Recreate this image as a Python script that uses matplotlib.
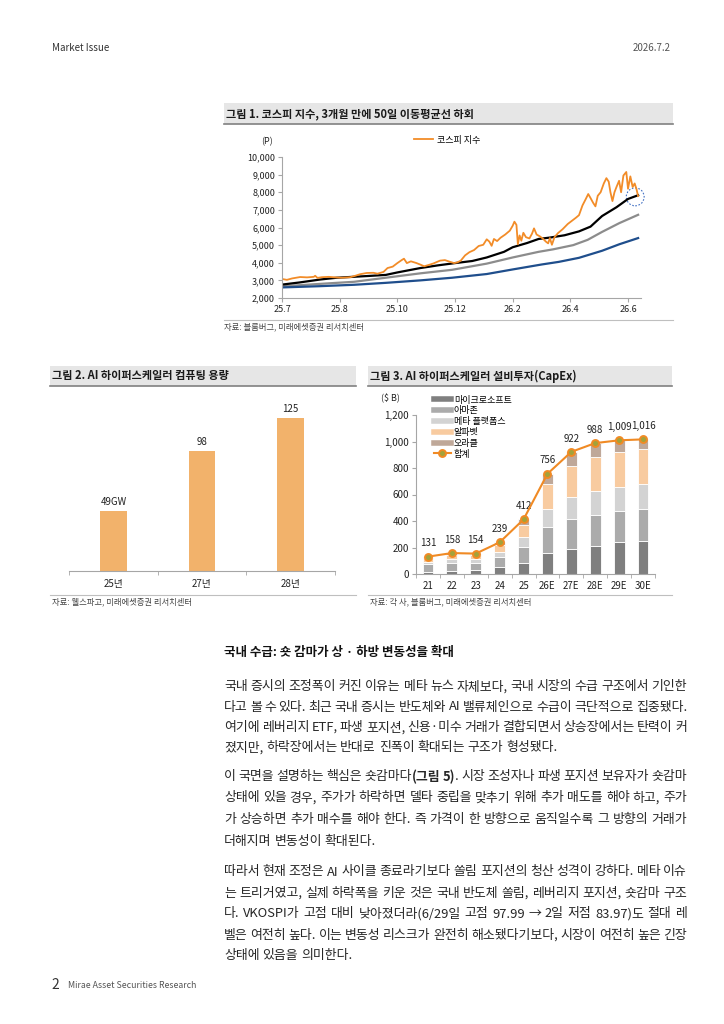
import numpy as np
import matplotlib.pyplot as plt
from matplotlib.patches import Rectangle, Ellipse
from matplotlib.lines import Line2D
from matplotlib.ticker import FuncFormatter

plt.rcParams['font.family'] = ['Noto Sans CJK KR', 'DejaVu Sans']
plt.rcParams['axes.unicode_minus'] = False

W, H = 724, 1024

# ---- 그림 1 : 코스피 + 이동평균 (x = 시작 후 경과 개월) ----
kospi_x = [0.00, 0.17, 0.35, 0.63, 0.87, 1.10, 1.15, 1.23, 1.38, 1.62, 1.85, 2.08, 2.37, 2.54,
           2.71, 2.94, 3.17, 3.31, 3.52, 3.66, 3.84, 4.00, 4.15, 4.23, 4.33, 4.47, 4.65, 4.79,
           4.93, 5.08, 5.25, 5.48, 5.65, 5.83, 5.97, 6.08, 6.20, 6.35, 6.50, 6.66, 6.82, 6.98,
           7.10, 7.19, 7.27, 7.35, 7.46, 7.58, 7.74, 7.90, 8.00, 8.06, 8.13, 8.18, 8.24, 8.30,
           8.37, 8.46, 8.58, 8.67, 8.74, 8.83, 8.94, 9.06, 9.15, 9.23, 9.29, 9.36, 9.45, 9.57,
           9.73, 9.91, 10.07, 10.19, 10.30, 10.42, 10.53, 10.62, 10.69, 10.79, 10.87, 10.95,
           11.05, 11.16, 11.25, 11.33, 11.39, 11.46, 11.53, 11.60, 11.69, 11.76, 11.84, 11.94,
           12.00, 12.08, 12.16, 12.23, 12.29, 12.35]
kospi_v = [3080, 3030, 3110, 3190, 3170, 3200, 3260, 3140, 3180, 3200, 3170, 3150, 3180, 3260,
           3350, 3420, 3430, 3380, 3480, 3700, 3780, 3980, 4150, 4230, 3980, 4080, 3990, 3900,
           3800, 3870, 3960, 4120, 4150, 4050, 3980, 4020, 4120, 4420, 4600, 4720, 4950, 5020,
           5330, 5200, 4960, 5350, 5230, 5420, 5600, 5820, 6100, 6330, 6150, 5050, 5550, 5250,
           5700, 5450, 5380, 5650, 5950, 5600, 5500, 5350, 5200, 5100, 5400, 5020, 5450, 5680,
           5900, 6200, 6400, 6550, 6700, 7250, 7600, 7900, 7700, 7400, 7200, 7800,
           8000, 8500, 8800, 8600, 8000, 7500, 8000, 8300, 8650, 8000, 8950, 9150,
           8200, 8900, 8300, 8500, 8200, 7780]
ma_black_x = [0, 0.6, 1.33, 1.9, 3.0, 3.6, 4.0, 4.8, 5.4, 6.0, 6.6, 7.1, 7.7, 8.0, 8.5, 8.9,
              9.3, 9.8, 10.3, 10.7, 11.1, 11.6, 12.0, 12.35]
ma_black_v = [2760, 2880, 3050, 3150, 3250, 3310, 3450, 3700, 3850, 3980, 4100, 4300, 4620,
              4880, 5120, 5350, 5430, 5560, 5780, 6050, 6650, 7150, 7620, 7830]
ma_gray_x = [0, 1.3, 2.5, 3.6, 4.8, 5.9, 7.1, 8.0, 8.9, 9.4, 10.1, 10.6, 11.1, 11.7, 12.35]
ma_gray_v = [2660, 2800, 2920, 3150, 3400, 3600, 3950, 4300, 4620, 4760, 5000, 5300, 5750,
             6250, 6720]
ma_navy_x = [0, 1.3, 2.5, 3.6, 4.8, 5.9, 7.1, 8.0, 9.0, 9.6, 10.3, 11.1, 11.7, 12.35]
ma_navy_v = [2600, 2670, 2750, 2860, 3000, 3150, 3360, 3620, 3900, 4050, 4280, 4680, 5050, 5400]
x1_ticks = [0, 2, 4, 6, 8, 10, 12]
x1_labels = ['25.7', '25.8', '25.10', '25.12', '26.2', '26.4', '26.6']

# ---- 그림 2 : 컴퓨팅 용량 ----
cap_years = ['25년', '27년', '28년']
cap_gw = [49, 98, 125]
cap_text = ['49GW', '98', '125']

# ---- 그림 3 : CapEx ----
capex_years = ['21', '22', '23', '24', '25', '26E', '27E', '28E', '29E', '30E']
msft = [18, 20, 30, 50, 81, 156, 186, 211, 239, 247]
amzn = [56, 65, 55, 81, 125, 196, 229, 234, 236, 241]
meta = [20, 26, 28, 37, 71, 136, 164, 181, 179, 189]
googl = [25, 32, 30, 51, 93, 189, 239, 259, 264, 264]
orcl = [12, 15, 11, 20, 42, 79, 104, 103, 91, 75]
capex_total = [131, 158, 154, 239, 412, 756, 922, 988, 1009, 1016]
capex_names = ['마이크로소프트', '아마존', '메타 플랫폼스', '알파벳', '오라클']
capex_colors = ['#7F7F7F', '#ABABAB', '#D3D3D3', '#F8CBA0', '#BFA899']

para1 = ["국내 증시의 조정폭이 커진 이유는 메타 뉴스 자체보다, 국내 시장의 수급 구조에서 기인한",
         "다고 볼 수 있다. 최근 국내 증시는 반도체와 AI 밸류체인으로 수급이 극단적으로 집중됐다.",
         "여기에 레버리지 ETF, 파생 포지션, 신용·미수 거래가 결합되면서 상승장에서는 탄력이 커",
         "졌지만, 하락장에서는 반대로 진폭이 확대되는 구조가 형성됐다."]
para2 = ["이 국면을 설명하는 핵심은 숏감마다§(그림 5)§. 시장 조성자나 파생 포지션 보유자가 숏감마",
         "상태에 있을 경우, 주가가 하락하면 델타 중립을 맞추기 위해 추가 매도를 해야 하고, 주가",
         "가 상승하면 추가 매수를 해야 한다. 즉 가격이 한 방향으로 움직일수록 그 방향의 거래가",
         "더해지며 변동성이 확대된다."]
para3 = ["따라서 현재 조정은 AI 사이클 종료라기보다 쏠림 포지션의 청산 성격이 강하다. 메타 이슈",
         "는 트리거였고, 실제 하락폭을 키운 것은 국내 반도체 쏠림, 레버리지 포지션, 숏감마 구조",
         "다. VKOSPI가 고점 대비 낮아졌더라(6/29일 고점 97.99 → 2일 저점 83.97)도 절대 레",
         "벨은 여전히 높다. 이는 변동성 리스크가 완전히 해소됐다기보다, 시장이 여전히 높은 긴장",
         "상태에 있음을 의미한다."]
para1_y = [686.5, 707, 727.5, 748]
para2_y = [776.5, 798, 820, 842]
para3_y = [872, 893, 914, 935, 956]

fig = plt.figure(figsize=(W / 100, H / 100), dpi=100)


def fx(x):
    return x / W


def fy(y):
    return 1 - y / H


def ftext(x, y, s, **kw):
    return fig.text(fx(x), fy(y), s, **kw)


def hline(x0, x1, y, color, lw):
    fig.add_artist(Line2D([fx(x0), fx(x1)], [fy(y), fy(y)], transform=fig.transFigure,
                          color=color, lw=lw))


def title_bar(x0, x1, y0, y1, label):
    fig.add_artist(Rectangle((fx(x0), fy(y1)), (x1 - x0) / W, (y1 - y0) / H,
                             transform=fig.transFigure, facecolor='#E6E6E6', edgecolor='none'))
    hline(x0, x1, y1, '#808080', 1.2)
    ftext(x0 + 2, (y0 + y1) / 2, label, fontsize=8, fontweight='bold', va='center', color='#1a1a1a')


def style_axes(ax):
    for s in ['top', 'right']:
        ax.spines[s].set_visible(False)
    for s in ['left', 'bottom']:
        ax.spines[s].set_color('#A6A6A6')
        ax.spines[s].set_linewidth(0.8)
    ax.tick_params(labelsize=6.5, length=3, color='#A6A6A6', pad=2, labelcolor='#222222')


comma = FuncFormatter(lambda v, p: f'{int(v):,}')

# header / footer
ftext(52, 48, 'Market Issue', fontsize=7, va='center', color='#333333')
ftext(671, 48, '2026.7.2', fontsize=7, va='center', ha='right', color='#555555')
ftext(51, 985, '2', fontsize=10, va='center', color='#333333')
ftext(68, 985, 'Mirae Asset Securities Research', fontsize=6.3, va='center', color='#555555')

# ---------------- 그림 1 ----------------
title_bar(224, 673, 103, 124, '그림 1. 코스피 지수, 3개월 만에 50일 이동평균선 하회')
ax1 = fig.add_axes([fx(282), fy(298), (641 - 282) / W, (298 - 157) / H])
ax1.plot(ma_gray_x, ma_gray_v, color='#8C8C8C', lw=1.6)
ax1.plot(ma_navy_x, ma_navy_v, color='#1F4E8C', lw=1.6)
ax1.plot(ma_black_x, ma_black_v, color='#000000', lw=1.6)
ax1.plot(kospi_x, kospi_v, color='#F28C28', lw=1.3, label='코스피 지수')
ax1.add_patch(Ellipse((kospi_x[-3] + 0.02, 7740), 0.62, 1020, fill=False, ls=(0, (1.5, 1.5)),
                      edgecolor='#4472C4', lw=0.8, clip_on=False))
ax1.set_xlim(0, 12.45)
ax1.set_ylim(2000, 10000)
ax1.set_yticks(range(2000, 10001, 1000))
ax1.yaxis.set_major_formatter(comma)
ax1.set_xticks(x1_ticks, x1_labels)
style_axes(ax1)
ax1.legend(loc='center', bbox_to_anchor=(fx(447), fy(140)), bbox_transform=fig.transFigure,
           frameon=False, fontsize=6.5, handlelength=2.2, handletextpad=0.4)
ftext(267, 142, '(P)', fontsize=6.5, ha='center', va='center', color='#222222')
hline(224, 673, 320, '#BFBFBF', 0.8)
ftext(224, 327, '자료: 블룸버그, 미래에셋증권 리서치센터', fontsize=6, va='center', color='#444444')

# ---------------- 그림 2 ----------------
title_bar(50, 356, 366, 386, '그림 2. AI 하이퍼스케일러 컴퓨팅 용량')
ax2 = fig.add_axes([fx(69), fy(571), 266 / W, (571 - 400) / H])
xc = np.arange(len(cap_years))
ax2.bar(xc, cap_gw, width=0.3, color='#F2B26B')
for xi, v, s in zip(xc, cap_gw, cap_text):
    ax2.annotate(s, (xi, v), xytext=(0, 3), textcoords='offset points', ha='center',
                 va='bottom', fontsize=7, color='#222222')
ax2.set_xlim(-0.5, 2.5)
ax2.set_ylim(0, 139.7)
style_axes(ax2)
ax2.spines['left'].set_visible(False)
ax2.set_yticks([])
ax2.set_xticks(xc, cap_years)
ax2.tick_params(axis='x', length=0, pad=6, labelsize=7)
ax2.set_xticks([-0.5, 0.5, 1.5, 2.5], minor=True)
ax2.tick_params(axis='x', which='minor', length=3, color='#A6A6A6')
hline(50, 356, 595, '#BFBFBF', 0.8)
ftext(52, 602, '자료: 웰스파고, 미래에셋증권 리서치센터', fontsize=6, va='center', color='#444444')

# ---------------- 그림 3 ----------------
title_bar(368, 672, 366, 386, '그림 3. AI 하이퍼스케일러 설비투자(CapEx)')
ax3 = fig.add_axes([fx(416), fy(574), 239 / W, 159 / H])
xs = np.arange(len(capex_years))
bottom = np.zeros(len(xs))
handles = []
for vals, name, col in zip([msft, amzn, meta, googl, orcl], capex_names, capex_colors):
    ax3.bar(xs, vals, bottom=bottom, width=0.45, color=col, edgecolor='white', linewidth=0.6)
    bottom += np.array(vals)
    handles.append(Line2D([], [], color=col, lw=4, label=name))
ax3.plot(xs, capex_total, color='#F08A24', lw=1.5, marker='o', markersize=5,
         markerfacecolor='#A3A23A', markeredgecolor='#F08A24', markeredgewidth=1.4, zorder=5)
handles.append(Line2D([], [], color='#F08A24', lw=1.5, marker='o', markersize=5,
                      markerfacecolor='#A3A23A', markeredgecolor='#F08A24',
                      markeredgewidth=1.4, label='합계'))
for xi, v in zip(xs, capex_total):
    ax3.annotate(f'{v:,}', (xi, v), xytext=(0, 6), textcoords='offset points', ha='center',
                 va='bottom', fontsize=7, color='#222222', clip_on=False)
ax3.set_xlim(-0.5, len(xs) - 0.5)
ax3.set_ylim(0, 1200)
ax3.set_yticks(range(0, 1201, 200))
ax3.yaxis.set_major_formatter(comma)
ax3.set_xticks(xs, capex_years)
style_axes(ax3)
ax3.tick_params(axis='x', length=0, pad=5, labelsize=7)
ax3.tick_params(axis='y', labelsize=7)
ax3.set_xticks(np.arange(-0.5, len(xs)), minor=True)
ax3.tick_params(axis='x', which='minor', length=3, color='#A6A6A6')
ax3.legend(handles=handles, loc='upper left', bbox_to_anchor=(fx(429), fy(391)),
           bbox_transform=fig.transFigure, frameon=False, fontsize=6.5, handlelength=1.9,
           handletextpad=0.35, labelspacing=0.2, borderpad=0)
ftext(400, 398, '($ B)', fontsize=6.5, ha='right', va='center', color='#222222')
hline(368, 672, 595, '#BFBFBF', 0.8)
ftext(370, 602, '자료: 각 사, 블룸버그, 미래에셋증권 리서치센터', fontsize=6, va='center', color='#444444')

# ---------------- 본문 ----------------
FS = 9.3
X0, X1 = 224, 687
rend = fig.canvas.get_renderer()


def tw(s, bold, fs=FS):
    t = fig.text(0, 0, s, fontsize=fs, fontweight='bold' if bold else 'normal')
    w = t.get_window_extent(renderer=rend).width
    t.remove()
    return w


SPACE = tw('가 가', False) - 2 * tw('가', False)


def put_line(line, y, justify):
    bold = False
    words = []
    for w in line.split(' '):
        segs = []
        for i, p in enumerate(w.split('§')):
            if i > 0:
                bold = not bold
            if p:
                segs.append((p, bold))
        words.append(segs)
    fs = FS
    widths = [sum(tw(s, b, fs) for s, b in segs) for segs in words]
    # 한 줄이 너무 길면 글자 크기를 조금 줄인다
    while justify and X1 - X0 - sum(widths) < 1.5 * (len(words) - 1):
        fs -= 0.1
        widths = [sum(tw(s, b, fs) for s, b in segs) for segs in words]
    gap = (X1 - X0 - sum(widths)) / (len(words) - 1) if justify and len(words) > 1 else SPACE
    x = X0
    for segs, wd in zip(words, widths):
        for s, b in segs:
            ftext(x, y, s, fontsize=fs, fontweight='bold' if b else 'normal', va='center',
                  color='#262626')
            x += tw(s, b, fs)
        x += gap


ftext(X0, 652.5, '국내 수급: 숏 감마가 상 · 하방 변동성을 확대', fontsize=9, fontweight='bold',
      va='center', color='#111111')
for para, ys in [(para1, para1_y), (para2, para2_y), (para3, para3_y)]:
    for i, (line, y) in enumerate(zip(para, ys)):
        put_line(line, y, i < len(para) - 1)

fig.savefig('out.png', dpi=100)
